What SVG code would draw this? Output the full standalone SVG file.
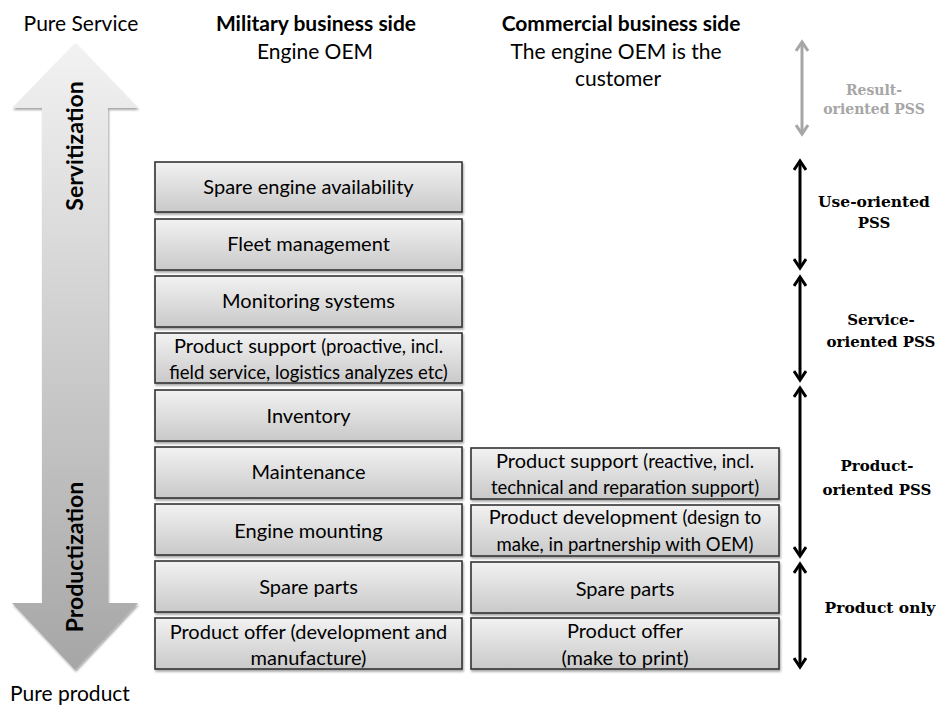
<svg xmlns="http://www.w3.org/2000/svg" width="938" height="708" viewBox="0 0 938 708">
<style>
text{font-family:Lato,"Liberation Sans",sans-serif;fill:#000}
.h{font-size:21px}
.hb{font-size:21px;font-weight:bold}
.t{font-size:20px;text-anchor:middle}
.s{font-size:18.5px}
.vert{font-size:23px;font-weight:bold;text-anchor:middle}
.pss{font-family:"DejaVu Serif","Liberation Serif",serif;font-size:15px;font-weight:bold;text-anchor:middle}
.box{fill:url(#bg);stroke:#333;stroke-width:1.6;filter:url(#sh)}
.blk{stroke:#000;stroke-width:3;fill:none}
.gry{stroke:#a6a6a6;stroke-width:3;fill:none}
</style>
<defs>
<linearGradient id="bg" x1="0" y1="0" x2="0" y2="1">
<stop offset="0" stop-color="#f2f2f2"/><stop offset="1" stop-color="#c9c9c9"/>
</linearGradient>
<linearGradient id="ag" x1="0" y1="43" x2="0" y2="670" gradientUnits="userSpaceOnUse">
<stop offset="0" stop-color="#f2f2f2"/><stop offset="1" stop-color="#a6a6a6"/>
</linearGradient>
<filter id="sh" x="-10%" y="-20%" width="120%" height="150%">
<feDropShadow dx="1" dy="2" stdDeviation="1.2" flood-color="#000" flood-opacity="0.35"/>
</filter>
<marker id="mb" markerUnits="userSpaceOnUse" viewBox="0 0 14 14" refX="11" refY="7" markerWidth="14" markerHeight="14" orient="auto-start-reverse">
<path d="M2,1 L11,7 L2,13" fill="none" stroke="#000" stroke-width="3"/>
</marker>
<marker id="mg" markerUnits="userSpaceOnUse" viewBox="0 0 14 14" refX="11" refY="7" markerWidth="14" markerHeight="14" orient="auto-start-reverse">
<path d="M2,1 L11,7 L2,13" fill="none" stroke="#a6a6a6" stroke-width="3"/>
</marker>
</defs>
<rect width="938" height="708" fill="#fff"/>

<g id="big-arrow">
<path d="M75,43 L138,108 L108,108 L108,603 L138,603 L75,670 L12,603 L42,603 L42,108 L12,108 Z" fill="url(#ag)" filter="url(#sh)"/>
<text class="vert" transform="translate(83,146) rotate(-90)">Servitization</text>
<text class="vert" transform="translate(83,557) rotate(-90)">Productization</text>
</g>

<g id="headers">
<text class="h" x="81" y="31" text-anchor="middle">Pure  Service</text>
<text class="hb" x="316" y="31" text-anchor="middle">Military business side</text>
<text class="h" x="315" y="59" text-anchor="middle">Engine OEM</text>
<text class="hb" x="621" y="31" text-anchor="middle">Commercial business side</text>
<text class="h" x="616" y="59" text-anchor="middle">The engine OEM is the</text>
<text class="h" x="618" y="86" text-anchor="middle">customer</text>
<text class="h" x="70" y="701" text-anchor="middle">Pure product</text>
</g>

<g id="m1"><rect class="box" x="155" y="162" width="307" height="50"/><text class="t" x="308.5" y="194">Spare engine availability</text></g>
<g id="m2"><rect class="box" x="155" y="219" width="307" height="51"/><text class="t" x="308.5" y="251">Fleet management</text></g>
<g id="m3"><rect class="box" x="155" y="276" width="307" height="51"/><text class="t" x="308.5" y="308">Monitoring systems</text></g>
<g id="m4"><rect class="box" x="155" y="333" width="307" height="50"/><text class="t" x="308.5" y="353">Product support  <tspan class="s">(proactive, incl.</tspan></text><text class="t s" x="308.5" y="379">field service,  logistics analyzes etc)</text></g>
<g id="m5"><rect class="box" x="155" y="390" width="307" height="51"/><text class="t" x="308.5" y="423">Inventory</text></g>
<g id="m6"><rect class="box" x="155" y="447" width="307" height="51"/><text class="t" x="308.5" y="479">Maintenance</text></g>
<g id="m7"><rect class="box" x="155" y="504" width="307" height="51"/><text class="t" x="308.5" y="538">Engine mounting</text></g>
<g id="m8"><rect class="box" x="155" y="561" width="307" height="51"/><text class="t" x="308.5" y="594">Spare parts</text></g>
<g id="m9"><rect class="box" x="155" y="618" width="307" height="51"/><text class="t" x="308.5" y="639">Product offer (development and</text><text class="t" x="308.5" y="665">manufacture)</text></g>

<g id="c1"><rect class="box" x="471" y="448" width="308" height="51"/><text class="t" x="625" y="468">Product support <tspan class="s">(reactive, incl.</tspan></text><text class="t s" x="625" y="494">technical and reparation support)</text></g>
<g id="c2"><rect class="box" x="471" y="505" width="308" height="51"/><text class="t" x="625" y="524">Product development <tspan class="s">(design to</tspan></text><text class="t s" x="625" y="551">make, in partnership with OEM)</text></g>
<g id="c3"><rect class="box" x="471" y="562" width="308" height="51"/><text class="t" x="625" y="596">Spare parts</text></g>
<g id="c4"><rect class="box" x="471" y="618" width="308" height="51"/><text class="t" x="625" y="638">Product offer</text><text class="t" x="625" y="665">(make to print)</text></g>

<g id="connectors">
<line class="gry" x1="802" y1="42" x2="802" y2="134" marker-start="url(#mg)" marker-end="url(#mg)"/>
<line class="blk" x1="800" y1="161" x2="800" y2="268" marker-start="url(#mb)" marker-end="url(#mb)"/>
<line class="blk" x1="800" y1="277" x2="800" y2="380" marker-start="url(#mb)" marker-end="url(#mb)"/>
<line class="blk" x1="800" y1="388" x2="800" y2="556" marker-start="url(#mb)" marker-end="url(#mb)"/>
<line class="blk" x1="800" y1="564" x2="800" y2="667" marker-start="url(#mb)" marker-end="url(#mb)"/>
</g>

<g id="pss-labels">
<text class="pss" x="874" y="95" style="fill:#a6a6a6;font-size:14px">Result-</text>
<text class="pss" x="874" y="114" style="fill:#a6a6a6;font-size:14px">oriented PSS</text>
<text class="pss" x="874" y="207" style="font-size:15.5px">Use-oriented</text>
<text class="pss" x="874" y="228">PSS</text>
<text class="pss" x="881" y="325">Service-</text>
<text class="pss" x="881" y="347">oriented PSS</text>
<text class="pss" x="877" y="471">Product-</text>
<text class="pss" x="877" y="495">oriented PSS</text>
<text class="pss" x="880" y="613" style="font-size:15.5px">Product only</text>
</g>
</svg>
